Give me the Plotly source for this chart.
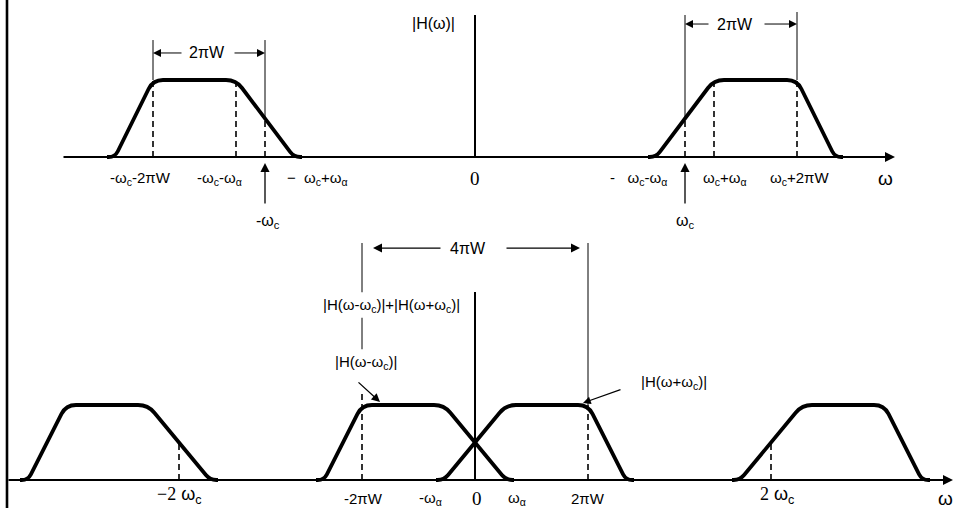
import plotly.graph_objects as go

FIG_W, FIG_H = 953, 508

# ---------------- values ----------------
# ω is expressed on one common horizontal scale, 0 = origin
top_wc = 210          # ω_c (upper panel)
top_bw = 112          # 2πW
top_alpha = 29        # ω_α
top_edge = 38         # width of the sharp band edge
bot_wc2 = 296         # 2ω_c (lower panel)
bot_bw = 113          # 2πW
bot_alpha = 31        # ω_α
bot_edge = 38         # width of the sharp band edge
pass_level = 1.0      # |H| in the pass band
half_level = 0.5      # |H| at the carrier (vestigial edge midpoint)

top_label_text = ["-ω<sub>c</sub>-2πW", "-ω<sub>c</sub>-ω<sub>α</sub>", "−  ω<sub>c</sub>+ω<sub>α</sub>",
                  "-   ω<sub>c</sub>-ω<sub>α</sub>", "ω<sub>c</sub>+ω<sub>α</sub>", "ω<sub>c</sub>+2πW"]
top_label_x = [-335, -256, -158, 163, 250, 324]
bot_label_text = ["-2πW", "-ω<sub>α</sub>", "ω<sub>α</sub>", "2πW"]
bot_label_x = [-112, -45, 42, 113]

# ---------------- axes geometry ----------------
X_RANGE = [-475, 478]
Y_TOP = [-(508 - 157) / 77, 157 / 77]
Y_BOT = [-(508 - 480) / 75, 480 / 75]
SX = FIG_W / (X_RANGE[1] - X_RANGE[0])
SY_TOP = FIG_H / (Y_TOP[1] - Y_TOP[0])
SY_BOT = FIG_H / (Y_BOT[1] - Y_BOT[0])

SANS = "Liberation Sans, Arial, sans-serif"
SERIF = "Liberation Serif, Times New Roman, serif"

shapes = []
annotations = []


def band_pos(c, bw, a, e):
    return [(c - a, 0), (c + a, pass_level), (c + bw, pass_level), (c + bw + e, 0)]


def band_neg(c, bw, a, e):
    return [(-x, y) for x, y in reversed(band_pos(c, bw, a, e))]


def rounded_path(verts, sy, r=10.0):
    pts = [(x * SX, y * sy) for x, y in verts]
    pts = [(pts[0][0] - r * 0.8, pts[0][1])] + pts + [(pts[-1][0] + r * 0.8, pts[-1][1])]

    def d(p):
        return f"{p[0] / SX:.3f},{p[1] / sy:.5f}"

    out = ["M" + d(pts[0])]
    for i in range(1, len(pts) - 1):
        ax, ay = pts[i - 1]
        vx, vy = pts[i]
        bx, by = pts[i + 1]
        l1 = ((vx - ax) ** 2 + (vy - ay) ** 2) ** 0.5
        l2 = ((bx - vx) ** 2 + (by - vy) ** 2) ** 0.5
        rr = min(r, 0.8 * l1, 0.8 * l2)
        p1 = (vx - rr * (vx - ax) / l1, vy - rr * (vy - ay) / l1)
        p2 = (vx + rr * (bx - vx) / l2, vy + rr * (by - vy) / l2)
        out.append("L" + d(p1) + "Q" + d((vx, vy)) + " " + d(p2))
    out.append("L" + d(pts[-1]))
    return "".join(out)


def add_curve(verts, yref, sy):
    shapes.append(dict(type="path", xref="x", yref=yref, path=rounded_path(verts, sy),
                       line=dict(color="black", width=3.8)))


def add_line(x0, y0, x1, y1, yref, width=1.0, dash="solid"):
    shapes.append(dict(type="line", xref="x", yref=yref, x0=x0, y0=y0, x1=x1, y1=y1,
                       line=dict(color="black", width=width, dash=dash)))


def add_arrow(x_tail, y_tail, x_head, y_head, yref, width=1.0, size=1.6):
    annotations.append(dict(x=x_head, y=y_head, ax=x_tail, ay=y_tail, xref="x", yref=yref,
                            axref="x", ayref=yref, text="", showarrow=True, arrowhead=2,
                            arrowsize=size, arrowwidth=width, arrowcolor="black", standoff=0,
                            startstandoff=0))


def add_text(x, y, text, yref, size=14, family=SANS, xanchor="center"):
    annotations.append(dict(x=x, y=y, xref="x", yref=yref, text=text, showarrow=False,
                            xanchor=xanchor, yanchor="middle",
                            font=dict(size=size, family=family, color="black")))


DASH = "6px,4px"

# ================= upper panel =================
Y = "y"
add_arrow(-413, 0, 420, 0, Y, width=2, size=1.0)               # ω axis
add_line(0, 0, 0, 1.844, Y, width=2)                            # |H(ω)| axis
add_curve(band_neg(top_wc, top_bw, top_alpha, top_edge), Y, SY_TOP)
add_curve(band_pos(top_wc, top_bw, top_alpha, top_edge), Y, SY_TOP)

# dashed guides
for xg, yg in [(-top_wc - top_bw, pass_level), (-top_wc - top_alpha, pass_level), (-top_wc, half_level),
               (top_wc, half_level), (top_wc + top_alpha, pass_level), (top_wc + top_bw, pass_level)]:
    add_line(xg, 0, xg, yg, Y, width=1.6, dash=DASH)

# thin dimension lines
add_line(-top_wc - top_bw, pass_level, -top_wc - top_bw, 1.519, Y)
add_line(-top_wc, half_level, -top_wc, 1.519, Y)
add_line(top_wc, half_level, top_wc, 1.844, Y)
add_line(top_wc + top_bw, pass_level, top_wc + top_bw, 1.883, Y)

# 2πW dimension arrows
add_arrow(-292, 1.351, -top_wc - top_bw, 1.351, Y)
add_arrow(-242, 1.351, -top_wc, 1.351, Y)
add_text(-268, 1.351, "2πW", Y, size=16)
add_arrow(235, 1.727, top_wc, 1.727, Y)
add_arrow(288, 1.727, top_wc + top_bw, 1.727, Y)
add_text(260, 1.727, "2πW", Y, size=16)

# carrier arrows
add_arrow(-top_wc, -0.623, -top_wc, -0.078, Y, width=1.3, size=1.4)
add_arrow(top_wc, -0.623, top_wc, -0.078, Y, width=1.3, size=1.4)
add_text(-207, -0.844, "-ω<sub>c</sub>", Y, size=16)
add_text(210, -0.844, "ω<sub>c</sub>", Y, size=16)

for t, xl in zip(top_label_text, top_label_x):
    add_text(xl, -0.273, t, Y, size=15)
add_text(0, -0.273, "0", Y, size=19, family=SERIF)
add_text(410, -0.273, "ω", Y, size=19)
add_text(-42, 1.74, "|H(ω)|", Y, size=16)

# ================= lower panel =================
Y2 = "y2"
add_arrow(-468, 0, 478, 0, Y2, width=2, size=1.0)               # ω axis
shapes.append(dict(type="line", xref="x", yref="paper", x0=-468, x1=-468, y0=0, y1=1,
                   line=dict(color="black", width=2.6)))       # left frame line
add_line(0, 0, 0, 2.507, Y2, width=2)

add_curve(band_neg(bot_wc2, bot_bw, bot_alpha, bot_edge), Y2, SY_BOT)
add_curve(band_neg(0, bot_bw, bot_alpha, bot_edge), Y2, SY_BOT)
add_curve(band_pos(0, bot_bw, bot_alpha, bot_edge), Y2, SY_BOT)
add_curve(band_pos(bot_wc2, bot_bw, bot_alpha, bot_edge), Y2, SY_BOT)

for xg, y0g, y1g in [(-bot_bw, 0, 1.17), (bot_bw, 0, pass_level),
                     (-bot_wc2, 0, half_level), (bot_wc2, 0, half_level)]:
    add_line(xg, y0g, xg, y1g, Y2, width=1.6, dash=DASH)

LBL_SUM_Y = (480 - 305) / 75
LBL_LO_Y = (480 - 362) / 75
add_line(-bot_bw, 3.16, -bot_bw, LBL_SUM_Y + 0.17, Y2)
add_line(-bot_bw, LBL_SUM_Y - 0.17, -bot_bw, LBL_LO_Y + 0.17, Y2)
add_line(bot_bw, pass_level, bot_bw, 3.16, Y2)

add_arrow(-33, 3.093, -102, 3.093, Y2, width=1.2, size=1.5)
add_arrow(30, 3.093, 105, 3.093, Y2, width=1.2, size=1.5)
add_text(-7, 3.093, "4πW", Y2, size=16)

add_text(-84, LBL_SUM_Y, "|H(ω-ω<sub>c</sub>)|+|H(ω+ω<sub>c</sub>)|", Y2, size=15)
add_text(-109, LBL_LO_Y, "|H(ω-ω<sub>c</sub>)|", Y2, size=15)
add_arrow(-118, 1.32, -95, 1.04, Y2, width=1.3, size=1.3)
add_text(199, (480 - 382) / 75, "|H(ω+ω<sub>c</sub>)|", Y2, size=15)
add_arrow(147, 1.213, 108, 1.027, Y2, width=1.2, size=1.3)

for t, xl in zip(bot_label_text, bot_label_x):
    add_text(xl, -0.24, t, Y2, size=15)
add_text(2, -0.24, "0", Y2, size=19, family=SERIF)
add_text(470, -0.24, "ω", Y2, size=19)
add_text(-296, -0.21, "<span style='font-family:Liberation Serif'>−2</span> ω<sub>c</sub>", Y2, size=18)
add_text(302, -0.21, "<span style='font-family:Liberation Serif'>2</span> ω<sub>c</sub>", Y2, size=18)

fig = go.Figure()
fig.add_trace(go.Scatter(x=[X_RANGE[0]], y=[0], mode="markers", marker=dict(opacity=0),
                         hoverinfo="skip", showlegend=False))
fig.add_trace(go.Scatter(x=[X_RANGE[0]], y=[0], yaxis="y2", mode="markers", marker=dict(opacity=0),
                         hoverinfo="skip", showlegend=False))
fig.update_layout(
    width=FIG_W, height=FIG_H, autosize=False,
    margin=dict(l=0, r=0, t=0, b=0, pad=0),
    paper_bgcolor="white", plot_bgcolor="white",
    showlegend=False,
    xaxis=dict(range=X_RANGE, visible=False, fixedrange=True),
    yaxis=dict(range=Y_TOP, visible=False, fixedrange=True, domain=[0, 1]),
    yaxis2=dict(range=Y_BOT, visible=False, fixedrange=True, overlaying="y", anchor="x"),
    shapes=shapes,
    annotations=annotations,
)
fig.write_html("out.html", config={"displayModeBar": False},
               post_script="document.body.style.margin='0';")
